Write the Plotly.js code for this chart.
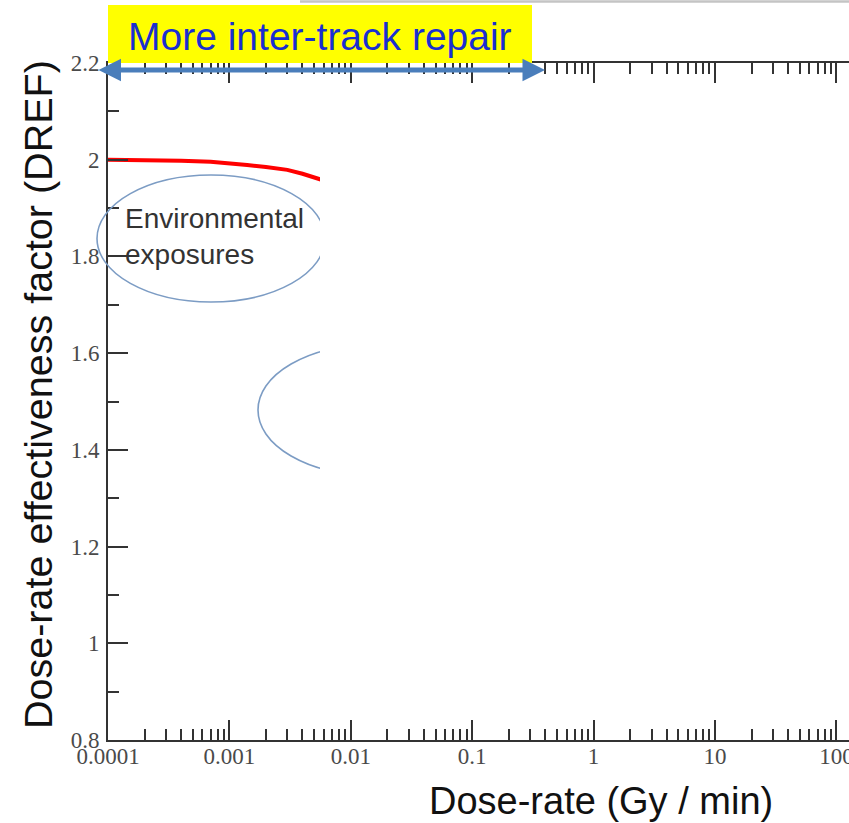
<!DOCTYPE html>
<html>
<head>
<meta charset="utf-8">
<script src="https://cdn.plot.ly/plotly-3.0.1.min.js"></script>
<style>html,body{margin:0;padding:0;background:#fff;}#chart{width:849px;height:823px;}</style>
</head>
<body>
<div id="chart"></div>
<script>
// Data
const doseRate = [1e-4, 2e-4, 4e-4, 7e-4, 1e-3, 1.4e-3, 2e-3, 3e-3, 4e-3, 5.3e-3, 6e-3];
const dref     = [2.0,  2.0,  1.998, 1.996, 1.993, 1.989, 1.985, 1.979, 1.971, 1.962, 1.957];

const xTickVals = [1e-4, 1e-3, 1e-2, 1e-1, 1, 10, 100];
const xTickText = ['0.0001', '0.001', '0.01', '0.1', '1', '10', '100'];
const yTickVals = [0.8, 1, 1.2, 1.4, 1.6, 1.8, 2, 2.2];
const yTickText = ['0.8', '1', '1.2', '1.4', '1.6', '1.8', '2', '2.2'];

const titleText = 'More inter-track repair';
const xTitle = 'Dose-rate (Gy / min)';
const yTitle = 'Dose-rate effectiveness factor (DREF)';
const envLabel = 'Environmental<br>exposures';

const W = 849, H = 823, L = 108, R = 0, T = 63, B = 83;
const pw = W - L - R, ph = H - T - B;
const px = x => (x - L) / pw;       // pixel -> paper x
const py = y => (H - B - y) / ph;   // pixel -> paper y

const tickFont = {family: 'Liberation Serif, Times New Roman, serif', size: 23, color: '#4a4a4a'};
const sansFont = 'Liberation Sans, Arial, sans-serif';

const trace = {
  x: doseRate, y: dref, type: 'scatter', mode: 'lines',
  line: {color: '#ff0000', width: 4}, hoverinfo: 'skip', showlegend: false
};

const layout = {
  width: W, height: H,
  margin: {l: L, r: R, t: T, b: B, pad: 0},
  paper_bgcolor: '#fff', plot_bgcolor: '#fff',
  showlegend: false,
  xaxis: {
    type: 'log', range: [-4, -4 + pw / 121.4],
    tickmode: 'array', tickvals: xTickVals, ticktext: xTickText,
    ticks: 'inside', ticklen: 20, tickwidth: 2, tickcolor: '#333',
    minor: {ticks: 'inside', ticklen: 11, tickwidth: 2, tickcolor: '#333', dtick: 'D1', showgrid: false},
    showline: true, linecolor: '#333', linewidth: 2, mirror: 'ticks',
    showgrid: false, zeroline: false, tickfont: tickFont, automargin: false,
    ticklabeloverflow: 'allow', ticklabelstandoff: -6
  },
  yaxis: {
    range: [0.8, 2.2],
    tickmode: 'array', tickvals: yTickVals, ticktext: yTickText,
    ticks: 'inside', ticklen: 20, tickwidth: 2, tickcolor: '#333',
    minor: {ticks: 'inside', ticklen: 11, tickwidth: 2, tickcolor: '#333', dtick: 0.1, tick0: 0, showgrid: false},
    showline: true, linecolor: '#333', linewidth: 2, mirror: false,
    showgrid: false, zeroline: false, tickfont: tickFont, automargin: false,
    ticklabeloverflow: 'allow', ticklabelstandoff: 2
  },
  shapes: [
    {type: 'circle', xref: 'paper', yref: 'paper', layer: 'above',
     x0: px(97), x1: px(325), y0: py(302), y1: py(175),
     line: {color: '#7c9cc4', width: 1.6}},
    {type: 'circle', xref: 'paper', yref: 'paper', layer: 'above',
     x0: px(258), x1: px(484), y0: py(475), y1: py(345),
     line: {color: '#7c9cc4', width: 1.6}},
    {type: 'rect', xref: 'paper', yref: 'paper', layer: 'above',
     x0: px(320), x1: 1.01, y0: py(719), y1: py(85),
     fillcolor: '#ffffff', line: {width: 0}},
    {type: 'line', xref: 'paper', yref: 'paper', layer: 'above',
     x0: px(300), x1: 1.01, y0: py(1.5), y1: py(1.5),
     line: {color: '#c4c4c4', width: 2.5}},
    {type: 'rect', xref: 'paper', yref: 'paper', layer: 'above',
     x0: px(108), x1: px(532), y0: py(63), y1: py(5),
     fillcolor: '#ffff00', line: {width: 0}}
  ],
  annotations: [
    {xref: 'paper', yref: 'paper', x: px(320), y: py(36), xanchor: 'center', yanchor: 'middle',
     text: titleText, showarrow: false,
     font: {family: sansFont, size: 39, color: '#1a2fd0'}},
    {xref: 'paper', yref: 'paper', x: px(545), y: py(70), ax: -448, ay: 0, axref: 'pixel', ayref: 'pixel',
     text: '', showarrow: true, arrowside: 'end+start', arrowhead: 2, startarrowhead: 2,
     arrowsize: 0.9, startarrowsize: 0.9, arrowwidth: 5, arrowcolor: '#4a7ebb',
     standoff: 0, startstandoff: 0},
    {xref: 'paper', yref: 'paper', x: px(123), y: py(236), xanchor: 'left', yanchor: 'middle',
     align: 'left', text: envLabel, showarrow: false,
     font: {family: sansFont, size: 28, color: '#333'}},
    {xref: 'paper', yref: 'paper', x: px(601), y: py(801), xanchor: 'center', yanchor: 'middle',
     text: xTitle, showarrow: false,
     font: {family: sansFont, size: 38, color: '#111'}},
    {xref: 'paper', yref: 'paper', x: px(38), y: py(395), xanchor: 'center', yanchor: 'middle',
     text: yTitle, textangle: -90, showarrow: false,
     font: {family: sansFont, size: 39.5, color: '#111'}}
  ]
};

Plotly.newPlot('chart', [trace], layout, {displayModeBar: false, staticPlot: true});
</script>
</body>
</html>
